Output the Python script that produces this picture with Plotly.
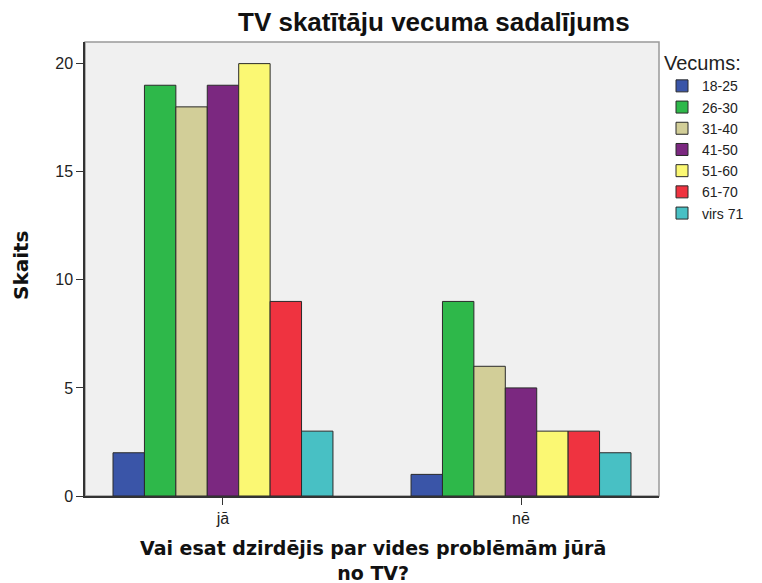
import plotly.graph_objects as go

categories = ["jā", "nē"]
age_groups = ["18-25", "26-30", "31-40", "41-50", "51-60", "61-70", "virs 71"]
values = {
    "18-25": [2, 1],
    "26-30": [19, 9],
    "31-40": [18, 6],
    "41-50": [19, 5],
    "51-60": [20, 3],
    "61-70": [9, 3],
    "virs 71": [3, 2],
}
colors = ["#3A55A8", "#2EB84A", "#D2CE98", "#7B2880", "#FBF873", "#EF3340", "#48C0C4"]

title_text = "TV skatītāju vecuma sadalījums"
x_title = "Vai esat dzirdējis par vides problēmām jūrā<br>no TV?"
y_title = "Skaits"
legend_title = "Vecums:"

fig = go.Figure()
for g, c in zip(age_groups, colors):
    fig.add_trace(go.Bar(
        x=categories, y=values[g], name=g,
        marker=dict(color=c, line=dict(color="#2a2a2a", width=1)),
    ))

# plot area: x 85..659, y 42..496 (px)
H = 454.0
W = 574.0
def py(ypx):
    return (496 - ypx) / H

fig.update_layout(
    width=762, height=583,
    barmode="group", bargap=0.262, bargroupgap=0,
    paper_bgcolor="white", plot_bgcolor="#F0F0F0",
    margin=dict(l=85, r=103, t=42, b=87),
    font=dict(family="Liberation Sans, Arial", size=16, color="#222"),
    legend=dict(
        title=dict(text=legend_title, font=dict(size=20, color="#222")),
        x=(662 - 85) / W, xanchor="left", y=0.995, yanchor="top",
        font=dict(size=14), bgcolor="rgba(0,0,0,0)",
        tracegroupgap=0,
    ),
    xaxis=dict(
        range=[-0.463, 1.463], showline=True, linecolor="#333", linewidth=1.5,
        ticks="outside", ticklen=7, tickcolor="#333", automargin=False,
        showgrid=False,
    ),
    yaxis=dict(
        range=[0, 21], tickvals=[0, 5, 10, 15, 20], showline=True, linecolor="#333",
        linewidth=1.5, ticks="outside", ticklen=7, tickcolor="#333", automargin=False,
        showgrid=False, zeroline=False,
    ),
    annotations=[
        dict(text="<b>" + title_text + "</b>", xref="paper", yref="paper",
             x=(434 - 85) / W, y=py(22), xanchor="center", yanchor="middle", showarrow=False,
             font=dict(family="Liberation Sans, Arial", size=26, color="#111")),
        dict(text="<b>" + y_title + "</b>", xref="paper", yref="paper",
             x=(21 - 85) / W, y=py(265), xanchor="center", yanchor="middle", showarrow=False,
             textangle=-90,
             font=dict(family="DejaVu Sans", size=20, color="#111")),
        dict(text="<b>" + x_title + "</b>", xref="paper", yref="paper",
             x=(373 - 85) / W, y=py(560), xanchor="center", yanchor="middle", showarrow=False,
             font=dict(family="DejaVu Sans", size=19, color="#111")),
    ],
)
fig.add_shape(type="rect", xref="paper", yref="paper", x0=0, y0=0, x1=1, y1=1,
              line=dict(color="#999", width=1.5), layer="below")

fig.write_html("out.html", config={"displayModeBar": False},
               post_script="document.body.style.margin='0';document.body.style.overflow='hidden';")
